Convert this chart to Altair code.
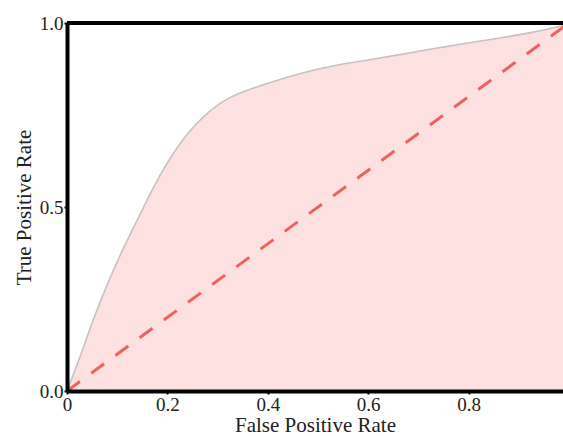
import altair as alt
import pandas as pd

# ROC curve points
fpr = [0.0, 0.026, 0.052, 0.080, 0.109, 0.145, 0.171, 0.205, 0.239, 0.271,
       0.304, 0.338, 0.370, 0.404, 0.464, 0.529, 0.597, 0.663, 0.728, 0.796,
       0.862, 0.927, 0.987, 1.0]
tpr = [0.0, 0.092, 0.195, 0.290, 0.380, 0.478, 0.552, 0.634, 0.699, 0.746,
       0.783, 0.807, 0.823, 0.838, 0.864, 0.884, 0.899, 0.914, 0.930, 0.945,
       0.959, 0.974, 0.992, 1.0]
diag_x = [0.0, 1.0]
diag_y = [0.0, 1.0]
x_ticks = [0, 0.2, 0.4, 0.6, 0.8]
y_ticks = [0.0, 0.5, 1.0]

roc = pd.DataFrame({"fpr": fpr, "tpr": tpr})
diag = pd.DataFrame({"fpr": diag_x, "tpr": diag_y})

FONT = "Liberation Serif"

xscale = alt.Scale(domain=[0, 0.988], nice=False, zero=False)
yscale = alt.Scale(domain=[0, 1], nice=False)

xaxis = alt.Axis(
    title="False Positive Rate", values=x_ticks,
    labelExpr="datum.value == 0 ? '0' : format(datum.value, '.1f')",
    grid=False, domainColor="black", domainWidth=4, tickColor="black",
    tickSize=3, tickWidth=2, labelPadding=1, titlePadding=0,
    labelFont=FONT, titleFont=FONT, labelFontSize=19, titleFontSize=21,
    titleFontWeight="normal", labelColor="#222", titleColor="#222",
    zindex=2, labelFlush=False,
)
yaxis = alt.Axis(
    title="True Positive Rate", values=y_ticks, format=".1f",
    grid=False, domainColor="black", domainWidth=4, tickColor="black",
    tickSize=3, tickWidth=2, labelPadding=1, titlePadding=5,
    labelFont=FONT, titleFont=FONT, labelFontSize=19, titleFontSize=21,
    titleFontWeight="normal", labelColor="#222", titleColor="#222",
    zindex=2, labelFlush=False,
)

area = alt.Chart(roc).mark_area(
    color="#fde1e1", interpolate="basis", clip=True
).encode(
    x=alt.X("fpr:Q", scale=xscale, axis=xaxis),
    y=alt.Y("tpr:Q", scale=yscale, axis=yaxis),
)

curve = alt.Chart(roc).mark_line(
    color="#c9c1c1", strokeWidth=1.6, interpolate="basis", clip=True
).encode(
    x=alt.X("fpr:Q", scale=xscale),
    y=alt.Y("tpr:Q", scale=yscale),
)

diagonal = alt.Chart(diag).mark_line(
    color="#f0605e", strokeWidth=3, strokeDash=[16, 14], clip=True
).encode(
    x=alt.X("fpr:Q", scale=xscale),
    y=alt.Y("tpr:Q", scale=yscale),
)

top = alt.Chart(pd.DataFrame({"v": [1.0]})).mark_rule(
    color="black", strokeWidth=4
).encode(
    y=alt.Y("v:Q", scale=yscale),
)

chart = alt.layer(area, curve, diagonal, top).properties(
    width=496, height=368,
    autosize=alt.AutoSizeParams(type="none"),
    padding={"left": 67, "top": 23, "right": 0, "bottom": 45},
    background="white",
).configure_view(stroke=None)

chart.save("out.html", embed_options={"renderer": "svg", "actions": False})
